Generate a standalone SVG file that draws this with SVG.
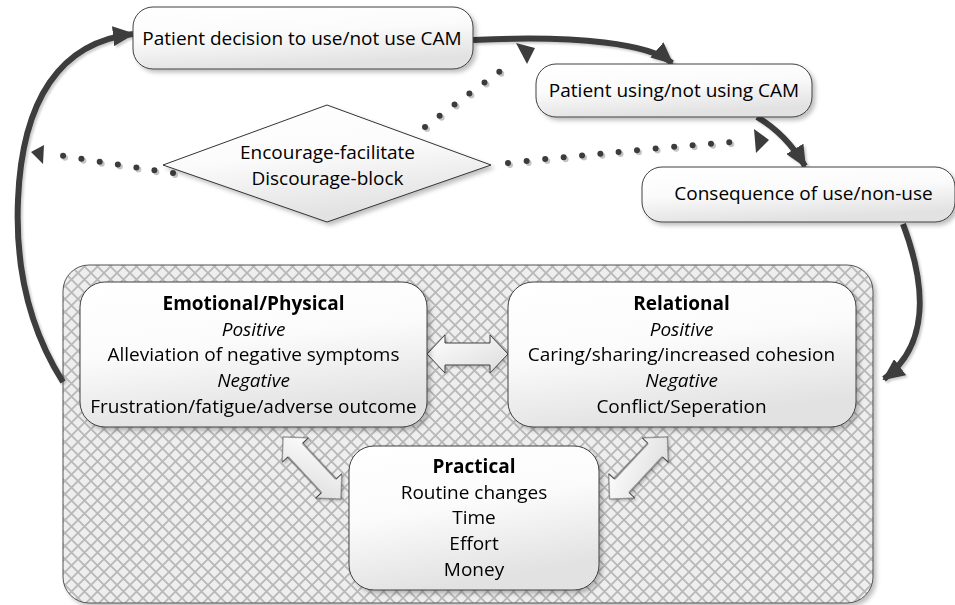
<svg xmlns="http://www.w3.org/2000/svg" width="955" height="605" viewBox="0 0 955 605">
<defs>
<style>
.t{font-family:"Open Sans","Liberation Sans",sans-serif;font-size:19px;fill:#000;text-anchor:middle}
.b{font-weight:bold}
.i{font-style:italic}
.node{fill:url(#ng);stroke:#404040;stroke-width:1}
.thick{fill:none;stroke:#3c3c3c;stroke-width:6}
.dot{fill:none;stroke:#3c3c3c;stroke-width:6;stroke-linecap:round;stroke-dasharray:0 18.5}
.dotsh{fill:none;stroke:#c4c4c4;stroke-width:6;stroke-linecap:round;stroke-dasharray:0 18.5}
.head{fill:#3c3c3c}
.barrow{fill:url(#ag);stroke:#404040;stroke-width:1}
</style>
<linearGradient id="ng" x1="0" y1="0" x2="0.3" y2="1">
<stop offset="0" stop-color="#ffffff"/>
<stop offset="0.5" stop-color="#fbfbfb"/>
<stop offset="1" stop-color="#e2e2e2"/>
</linearGradient>
<linearGradient id="ag" x1="0" y1="0" x2="1" y2="1">
<stop offset="0" stop-color="#ffffff"/>
<stop offset="1" stop-color="#dcdcdc"/>
</linearGradient>
<pattern id="hatch" width="13" height="13" patternUnits="userSpaceOnUse">
<rect width="13" height="13" fill="#eeeeee"/>
<path d="M0,0 L13,13 M13,0 L0,13" stroke="#b8b8b8" stroke-width="1.8"/>
</pattern>
<filter id="sh" x="-10%" y="-10%" width="130%" height="140%">
<feDropShadow dx="3" dy="3" stdDeviation="2" flood-color="#000" flood-opacity="0.25"/>
</filter>
<filter id="lsh" x="-10%" y="-10%" width="130%" height="130%">
<feDropShadow dx="2" dy="2" stdDeviation="1.2" flood-color="#000" flood-opacity="0.2"/>
</filter>
<marker id="ah" markerUnits="userSpaceOnUse" markerWidth="22" markerHeight="20" viewBox="0 0 22 20" refX="20" refY="10" orient="auto">
<path d="M0,0 L22,10 L0,20 Z" fill="#3c3c3c"/>
</marker>
<path id="dbl" d="M-40.5,0 L-22.5,-19 L-22.5,-11 L22.5,-11 L22.5,-19 L40.5,0 L22.5,19 L22.5,11 L-22.5,11 L-22.5,19 Z"/>
<path id="dbl2" d="M-42.5,0 L-24.5,-18 L-24.5,-10 L24.5,-10 L24.5,-18 L42.5,0 L24.5,18 L24.5,10 L-24.5,10 L-24.5,18 Z"/>
</defs>

<g id="container">
<rect x="63" y="265" width="810" height="338" rx="26" fill="url(#hatch)" stroke="#555" stroke-width="1" filter="url(#sh)"/>
</g>

<g id="connectors">
<g filter="url(#lsh)">
<path class="thick" d="M473,40 C580,35 650,44 672,63" marker-end="url(#ah)"/>
<path class="thick" d="M757,117 Q786,134 805,166" marker-end="url(#ah)"/>
<path class="thick" d="M903,224 C926,285 930,345 884,379" marker-end="url(#ah)"/>
<path class="thick" d="M63,382 C30,330 15,270 18,200 C22,100 60,42 133,34" marker-end="url(#ah)"/>
</g>
<g transform="translate(2,2)">
<path class="dotsh" d="M173,173 Q100,162 47,153"/>
<path class="dotsh" d="M425,127 C455,104 490,78 513,62"/>
<path class="dotsh" d="M508,163 Q630,150 745,141"/>
</g>
<path class="dot" d="M173,173 Q100,162 47,153"/>
<path class="dot" d="M425,127 C455,104 490,78 513,62"/>
<path class="dot" d="M508,163 Q630,150 745,141"/>
<polygon class="head" points="31,152 44,145 43,164"/>
<polygon class="head" points="516,43 535,48 527,64"/>
<polygon class="head" points="754,129 769,140 756,153"/>
<g class="barrow" filter="url(#lsh)">
<use href="#dbl" transform="translate(467.5,354)"/>
<use href="#dbl2" transform="translate(312,468) rotate(47)"/>
<use href="#dbl2" transform="translate(638.5,468) rotate(-47)"/>
</g>
</g>

<g id="decision">
<rect class="node" x="133" y="7" width="340" height="62" rx="20" filter="url(#sh)"/>
<text class="t" x="302" y="45">Patient decision to use/not use CAM</text>
</g>

<g id="using">
<rect class="node" x="536" y="64" width="276" height="53" rx="20" filter="url(#sh)"/>
<text class="t" x="674" y="97">Patient using/not using CAM</text>
</g>

<g id="consequence">
<rect class="node" x="642" y="167" width="313" height="55" rx="20" filter="url(#sh)"/>
<text class="t" x="803.5" y="200">Consequence of use/non-use</text>
</g>

<g id="diamond">
<polygon points="327,105 491,165 327,222 163,165" fill="url(#ng)" stroke="#333" stroke-width="1" filter="url(#sh)"/>
<text class="t" x="327.5" y="159">Encourage-facilitate</text>
<text class="t" x="327.5" y="185">Discourage-block</text>
</g>

<g id="emotional">
<rect class="node" x="80" y="282" width="347" height="145" rx="25" filter="url(#sh)"/>
<text class="t b" x="253.5" y="310">Emotional/Physical</text>
<text class="t i" x="253.5" y="336">Positive</text>
<text class="t" x="253.5" y="361">Alleviation of negative symptoms</text>
<text class="t i" x="253.5" y="387">Negative</text>
<text class="t" x="253.5" y="413">Frustration/fatigue/adverse outcome</text>
</g>

<g id="relational">
<rect class="node" x="508" y="282" width="348" height="145" rx="25" filter="url(#sh)"/>
<text class="t b" x="681.5" y="310">Relational</text>
<text class="t i" x="681.5" y="336">Positive</text>
<text class="t" x="681.5" y="361">Caring/sharing/increased cohesion</text>
<text class="t i" x="681.5" y="387">Negative</text>
<text class="t" x="681.5" y="413">Conflict/Seperation</text>
</g>

<g id="practical">
<rect class="node" x="349" y="446" width="250" height="144" rx="25" filter="url(#sh)"/>
<text class="t b" x="474" y="473">Practical</text>
<text class="t" x="474" y="499">Routine changes</text>
<text class="t" x="474" y="524">Time</text>
<text class="t" x="474" y="550">Effort</text>
<text class="t" x="474" y="576">Money</text>
</g>
</svg>
